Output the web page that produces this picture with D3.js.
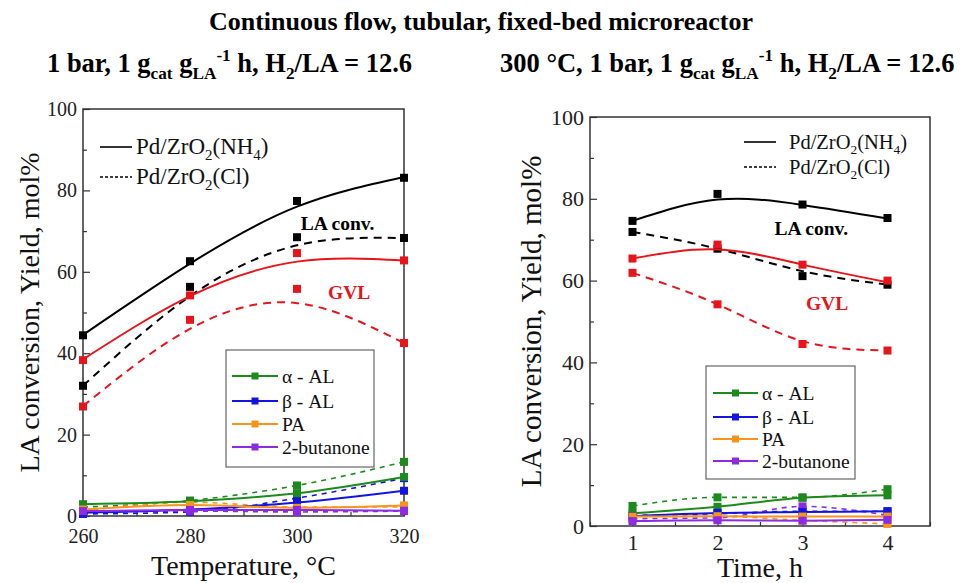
<!DOCTYPE html>
<html>
<head>
<meta charset="utf-8">
<script src="https://cdn.jsdelivr.net/npm/d3@7"></script>
<style>
  body { margin: 0; background: #fff; }
  svg { display: block; }
  text, tspan { font-family: "Liberation Serif", "Times New Roman", serif !important; }
</style>
</head>
<body>
<svg id="chart" width="962" height="583"></svg>
<script>
// ---- data ----
const temps = [260, 280, 300, 320];
const times = [1, 2, 3, 4];
const yTicks = [0, 20, 40, 60, 80, 100];
const yMinor = [10, 30, 50, 70, 90];
const tempMinor = [270, 290, 310];
const timeMinor = [0.5, 1.5, 2.5, 3.5, 4.5];

// temperature panel, measured points
const tempConvNH4 = [44.4, 62.6, 77.4, 83.1];
const tempConvCl = [32.0, 56.3, 68.5, 68.3];
const tempGvlNH4 = [38.3, 54.2, 64.6, 62.8];
const tempGvlCl = [26.9, 48.2, 55.8, 42.5];
// temperature panel, fitted curves (read at the same temperatures)
const tempConvNH4Fit = [44.5, 62.0, 76.0, 83.3];
const tempConvClFit = [32.0, 54.0, 66.5, 68.3];
const tempGvlNH4Fit = [38.5, 54.0, 62.5, 62.8];
const tempGvlClFit = [27.0, 46.0, 52.3, 42.5];
// temperature panel, by-products
const tempAlphaNH4 = [2.9, 3.6, 5.6, 9.6];
const tempAlphaCl = [2.2, 3.8, 7.5, 13.3];
const tempBetaNH4 = [0.8, 1.6, 3.3, 6.2];
const tempBetaCl = [0.5, 1.0, 4.4, 9.3];
const tempPaNH4 = [1.6, 2.7, 2.0, 2.6];
const tempPaCl = [1.2, 3.4, 2.2, 2.2];
const tempButNH4 = [1.2, 1.5, 1.5, 1.3];
const tempButCl = [0.9, 1.2, 1.0, 1.2];

// time panel, measured points
const timeConvNH4 = [74.6, 81.2, 78.6, 75.3];
const timeConvCl = [71.9, 67.8, 61.1, 59.0];
const timeGvlNH4 = [65.4, 68.8, 63.9, 60.0];
const timeGvlCl = [61.9, 54.2, 44.5, 42.9];
// time panel, fitted curves
const timeConvNH4Fit = [74.6, 79.8, 78.5, 75.2];
const timeConvClFit = [71.9, 67.8, 62.3, 59.0];
const timeGvlNH4Fit = [65.4, 67.6, 63.9, 59.6];
const timeGvlClFit = [61.9, 54.2, 45.2, 42.9];
// time panel, by-products
const timeAlphaNH4 = [3.1, 4.7, 6.9, 7.5];
const timeAlphaCl = [4.9, 7.0, 7.0, 9.0];
const timeBetaNH4 = [2.4, 3.2, 3.4, 3.6];
const timeBetaCl = [2.6, 3.0, 3.6, 3.6];
const timePaNH4 = [2.3, 2.4, 2.3, 2.3];
const timePaCl = [2.6, 2.4, 1.4, 0.5];
const timeButNH4 = [1.2, 1.4, 1.3, 1.5];
const timeButCl = [1.8, 2.0, 4.8, 2.6];

const byNames = ["α - AL", "β - AL", "PA", "2-butanone"];
const byColors = ["#1c8a1c", "#1414e0", "#f7941d", "#8c2be2"];
const red = "#e8141c";
const serif = "Liberation Serif, Times New Roman, serif";

const svg = d3.select("#chart");

// text with sub/superscripts: parts = [[str, "sub"|"sup"|""], ...]
function richText(g, x, y, parts, size, weight) {
  const t = g.append("text")
    .attr("x", x).attr("y", y)
    .attr("font-family", serif)
    .attr("font-size", size)
    .attr("font-weight", weight || "normal");
  let prev = 0;
  parts.forEach(p => {
    const s = t.append("tspan").text(p[0]);
    let shift = 0;
    if (p[1] == "sub") shift = size * 0.25;
    if (p[1] == "sup") shift = -size * 0.4;
    if (shift != 0) s.attr("font-size", size * 0.65);
    if (shift - prev != 0) s.attr("dy", shift - prev);
    prev = shift;
  });
  return t;
}

const conds = [["1 bar, 1 g", ""], ["cat", "sub"], [" g", ""], ["LA", "sub"], ["-1", "sup"],
  [" h, H", ""], ["2", "sub"], ["/LA = 12.6", ""]];

svg.append("text").attr("x", 481).attr("y", 30).attr("text-anchor", "middle")
  .attr("font-family", serif)
  .attr("font-size", 26).attr("font-weight", "bold")
  .text("Continuous flow, tubular, fixed-bed microreactor");
richText(svg, 47, 72, conds, 26.5, "bold");
richText(svg, 500, 72, [["300 °C, ", ""]].concat(conds), 26.5, "bold");

function drawPanel(cfg) {
  const g = svg.append("g");
  const x = d3.scaleLinear().domain(cfg.xDomain).range([cfg.left, cfg.right]);
  const y = d3.scaleLinear().domain([0, 100]).range([cfg.bottom, cfg.top]);

  // axes with inward ticks
  g.append("g").attr("transform", `translate(0,${cfg.bottom})`)
    .call(d3.axisBottom(x).tickValues(cfg.xTicks).tickFormat(d3.format("d"))
      .tickSize(-7).tickSizeOuter(0).tickPadding(cfg.tickPad))
    .call(a => a.select(".domain").remove())
    .call(a => a.attr("font-family", serif))
    .call(a => a.selectAll("text").attr("font-size", cfg.tickFont).attr("fill", "#222"));
  g.append("g").attr("transform", `translate(0,${cfg.bottom})`)
    .call(d3.axisBottom(x).tickValues(cfg.xMinor).tickFormat("").tickSize(-4).tickSizeOuter(0))
    .call(a => a.select(".domain").remove());
  g.append("g").attr("transform", `translate(${cfg.left},0)`)
    .call(d3.axisLeft(y).tickValues(yTicks).tickSize(-7).tickSizeOuter(0).tickPadding(6))
    .call(a => a.select(".domain").remove())
    .call(a => a.attr("font-family", serif))
    .call(a => a.selectAll("text").attr("font-size", cfg.tickFont).attr("fill", "#222"));
  g.append("g").attr("transform", `translate(${cfg.left},0)`)
    .call(d3.axisLeft(y).tickValues(yMinor).tickFormat("").tickSize(-4).tickSizeOuter(0))
    .call(a => a.select(".domain").remove());
  g.selectAll(".tick line").attr("stroke", "#333").attr("stroke-width", 1.2);

  g.append("rect").attr("x", cfg.left).attr("y", cfg.top)
    .attr("width", cfg.right - cfg.left).attr("height", cfg.bottom - cfg.top)
    .attr("fill", "none").attr("stroke", "#333").attr("stroke-width", 1.5);

  // axis titles
  g.append("text").attr("x", (cfg.left + cfg.right) / 2).attr("y", cfg.xLabelY)
    .attr("font-family", serif)
    .attr("text-anchor", "middle").attr("font-size", 28).attr("fill", "#111").text(cfg.xLabel);
  g.append("text")
    .attr("transform", `translate(${cfg.yLabelX},${(cfg.top + cfg.bottom) / 2}) rotate(-90)`)
    .attr("font-family", serif)
    .attr("text-anchor", "middle").attr("font-size", cfg.yLabelFont).attr("fill", "#111")
    .text("LA conversion, Yield, mol%");

  const line = d3.line().x((d, i) => x(cfg.xs[i])).y(d => y(d)).curve(d3.curveNatural);
  const straight = d3.line().x((d, i) => x(cfg.xs[i])).y(d => y(d)).curve(d3.curveMonotoneX);

  function series(vals, fit, color, dashed, width, dash, curve) {
    g.append("path").attr("d", curve(fit))
      .attr("fill", "none").attr("stroke", color).attr("stroke-width", width)
      .attr("stroke-dasharray", dashed ? dash : null);
    g.selectAll(null).data(vals).join("rect")
      .attr("x", (d, i) => x(cfg.xs[i]) - 4).attr("y", d => y(d) - 4)
      .attr("width", 8).attr("height", 8).attr("fill", color);
  }

  // main curves
  series(cfg.convNH4, cfg.convNH4Fit, "#000", false, 2, null, line);
  series(cfg.convCl, cfg.convClFit, "#000", true, 2, "8,6", line);
  series(cfg.gvlNH4, cfg.gvlNH4Fit, red, false, 2, null, line);
  series(cfg.gvlCl, cfg.gvlClFit, red, true, 2, "8,6", line);

  // by-products
  cfg.byCl.forEach((v, k) => series(v, v, byColors[k], true, 1.6, "5,5", straight));
  cfg.byNH4.forEach((v, k) => series(v, v, byColors[k], false, 2, null, straight));

  // annotations
  g.append("text").attr("x", x(cfg.convLabel[0])).attr("y", y(cfg.convLabel[1]))
    .attr("font-family", serif)
    .attr("font-size", 19.5).attr("font-weight", "bold").attr("fill", "#000").text("LA conv.");
  g.append("text").attr("x", x(cfg.gvlLabel[0])).attr("y", y(cfg.gvlLabel[1]))
    .attr("font-family", serif)
    .attr("font-size", 19.5).attr("font-weight", "bold").attr("fill", red).text("GVL");

  // catalyst legend
  const L = cfg.leg;
  [["NH", "4"], ["Cl", ""]].forEach((c, k) => {
    const yy = L.y + k * L.dy;
    g.append("line").attr("x1", L.x).attr("x2", L.x + L.len).attr("y1", yy).attr("y2", yy)
      .attr("stroke", "#000").attr("stroke-width", k == 0 ? 1.6 : 1.4)
      .attr("stroke-dasharray", k == 0 ? null : "3,2");
    const parts = [["Pd/ZrO", ""], ["2", "sub"], ["(" + c[0], ""]];
    if (c[1]) parts.push([c[1], "sub"]);
    parts.push([")", ""]);
    richText(g, L.x + L.len + L.gap, yy + L.font * 0.32, parts, L.font, "normal").attr("fill", "#111");
  });

  // by-product legend box
  const B = cfg.box;
  g.append("rect").attr("x", B.x).attr("y", B.y).attr("width", B.w).attr("height", B.h)
    .attr("fill", "#fff").attr("stroke", "#666").attr("stroke-width", 1.2);
  byNames.forEach((n, k) => {
    const yy = B.rows[k];
    g.append("line").attr("x1", B.lx).attr("x2", B.lx + B.llen).attr("y1", yy).attr("y2", yy)
      .attr("stroke", byColors[k]).attr("stroke-width", 2);
    g.append("rect").attr("x", B.lx + B.llen / 2 - 3.5).attr("y", yy - 3.5)
      .attr("width", 7).attr("height", 7).attr("fill", byColors[k]);
    g.append("text").attr("x", B.lx + B.llen + 4).attr("y", yy + 6.5)
      .attr("font-family", serif)
      .attr("font-size", 19.5).attr("fill", "#111").text(n);
  });
}

drawPanel({
  xDomain: [260, 320], left: 83, right: 404, top: 109, bottom: 516,
  xTicks: temps, xMinor: tempMinor, xs: temps, tickFont: 20, tickPad: 13,
  xLabel: "Temperature, °C", xLabelY: 575, yLabelX: 39, yLabelFont: 28,
  convNH4: tempConvNH4, convNH4Fit: tempConvNH4Fit, convCl: tempConvCl, convClFit: tempConvClFit,
  gvlNH4: tempGvlNH4, gvlNH4Fit: tempGvlNH4Fit, gvlCl: tempGvlCl, gvlClFit: tempGvlClFit,
  byNH4: [tempAlphaNH4, tempBetaNH4, tempPaNH4, tempButNH4],
  byCl: [tempAlphaCl, tempBetaCl, tempPaCl, tempButCl],
  convLabel: [300.7, 70.3], gvlLabel: [305.8, 53.3],
  leg: { x: 100, y: 147, dy: 30, len: 32, gap: 4, font: 23 },
  box: { x: 226, y: 350, w: 148, h: 117, rows: [376, 401, 424, 447], lx: 232, llen: 46 }
});

drawPanel({
  xDomain: [0.5, 4.5], left: 590, right: 930, top: 117, bottom: 526,
  xTicks: times, xMinor: timeMinor, xs: times, tickFont: 22, tickPad: 8,
  xLabel: "Time, h", xLabelY: 577, yLabelX: 541, yLabelFont: 29,
  convNH4: timeConvNH4, convNH4Fit: timeConvNH4Fit, convCl: timeConvCl, convClFit: timeConvClFit,
  gvlNH4: timeGvlNH4, gvlNH4Fit: timeGvlNH4Fit, gvlCl: timeGvlCl, gvlClFit: timeGvlClFit,
  byNH4: [timeAlphaNH4, timeBetaNH4, timePaNH4, timeButNH4],
  byCl: [timeAlphaCl, timeBetaCl, timePaCl, timeButCl],
  convLabel: [2.67, 71.2], gvlLabel: [3.04, 52.7],
  leg: { x: 744, y: 142, dy: 25, len: 32, gap: 13, font: 20.5 },
  box: { x: 706, y: 366, w: 149, h: 113, rows: [393, 417, 439, 461], lx: 713, llen: 45 }
});
</script>
</body>
</html>
